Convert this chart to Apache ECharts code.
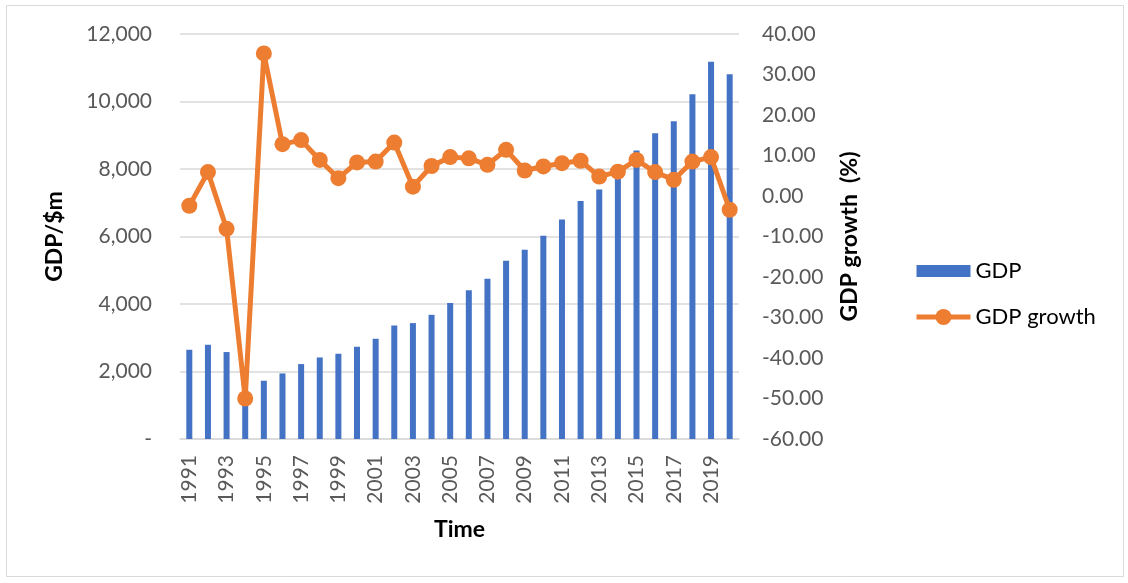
<!DOCTYPE html>
<html>
<head>
<meta charset="utf-8">
<script src="https://cdn.jsdelivr.net/npm/echarts@6/dist/echarts.min.js"></script>
<style>
  html, body { margin: 0; padding: 0; background: #fff; }
  #chart { width: 1128px; height: 583px; }
</style>
</head>
<body>
<div id="chart"></div>
<script>
// Years on the category axis
const years = [1991, 1992, 1993, 1994, 1995, 1996, 1997, 1998, 1999, 2000,
  2001, 2002, 2003, 2004, 2005, 2006, 2007, 2008, 2009, 2010,
  2011, 2012, 2013, 2014, 2015, 2016, 2017, 2018, 2019, 2020];

// GDP in $ millions
const gdp = [2644, 2792, 2576, 1290, 1726, 1943, 2220, 2416, 2526, 2733,
  2970, 3363, 3434, 3680, 4027, 4411, 4746, 5279, 5605, 6019,
  6502, 7055, 7390, 7900, 8545, 9060, 9415, 10214, 11180, 10807];

// Annual GDP growth in percent
const growth = [-2.4, 5.9, -8.1, -50.0, 35.2, 12.8, 13.8, 8.9, 4.4, 8.3,
  8.5, 13.2, 2.3, 7.4, 9.6, 9.3, 7.7, 11.4, 6.3, 7.3,
  8.1, 8.7, 4.8, 6.0, 8.9, 5.9, 4.0, 8.5, 9.6, -3.4];

const FONT = 'Lato, "Open Sans", sans-serif';
const TITLE = { fontFamily: FONT, fontSize: 23, fontWeight: 'bold', color: '#000' };
const TICK = { fontFamily: FONT, fontSize: 21, color: '#595959' };

const chart = echarts.init(document.getElementById('chart'));

chart.setOption({
  animation: false,
  textStyle: { fontFamily: FONT },
  graphic: [{
    type: 'rect',
    shape: { x: 6.5, y: 5.5, width: 1117, height: 571 },
    style: { fill: 'none', stroke: '#d9d9d9', lineWidth: 1 },
    silent: true
  }],
  grid: { left: 180, right: 389, top: 34, bottom: 144 },
  legend: {
    orient: 'vertical',
    left: 909,
    top: 255,
    itemWidth: 54,
    itemHeight: 20,
    itemGap: 24,
    symbolKeepAspect: true,
    lineStyle: { width: 5 },
    textStyle: { fontFamily: FONT, fontSize: 22, color: '#000' },
    data: [
      { name: 'GDP', icon: 'path://M0,0H54V12H0Z' },
      { name: 'GDP growth' }
    ]
  },
  xAxis: {
    type: 'category',
    data: years,
    name: 'Time',
    nameLocation: 'middle',
    nameGap: 79,
    nameTextStyle: TITLE,
    axisLine: { lineStyle: { color: '#d9d9d9', width: 1.5 } },
    axisTick: { show: false },
    axisLabel: Object.assign({ interval: 1, rotate: 90, margin: 16 }, TICK)
  },
  yAxis: [{
    type: 'value',
    min: 0,
    max: 12000,
    interval: 2000,
    name: 'GDP/$m',
    nameLocation: 'middle',
    nameRotate: 90,
    nameGap: 114,
    nameTextStyle: TITLE,
    axisLine: { show: false },
    axisTick: { show: false },
    axisLabel: Object.assign({
      margin: 28,
      formatter: v => v === 0 ? '-' : v.toLocaleString('en-US')
    }, TICK),
    splitLine: { lineStyle: { color: '#d9d9d9', width: 1.5 } }
  }, {
    type: 'value',
    min: -60,
    max: 40,
    interval: 10,
    name: 'GDP growth  (%)',
    nameLocation: 'middle',
    nameRotate: 90,
    nameGap: 99,
    nameTextStyle: TITLE,
    axisLine: { show: false },
    axisTick: { show: false },
    splitLine: { show: false },
    axisLabel: Object.assign({
      margin: 23,
      formatter: v => v.toFixed(2)
    }, TICK)
  }],
  series: [{
    name: 'GDP',
    type: 'bar',
    data: gdp,
    barWidth: 6,
    itemStyle: { color: '#4472c4' }
  }, {
    name: 'GDP growth',
    type: 'line',
    yAxisIndex: 1,
    data: growth,
    symbol: 'circle',
    symbolSize: 16,
    showAllSymbol: true,
    lineStyle: { color: '#ed7d31', width: 5 },
    itemStyle: { color: '#ed7d31' }
  }]
});
</script>
</body>
</html>
